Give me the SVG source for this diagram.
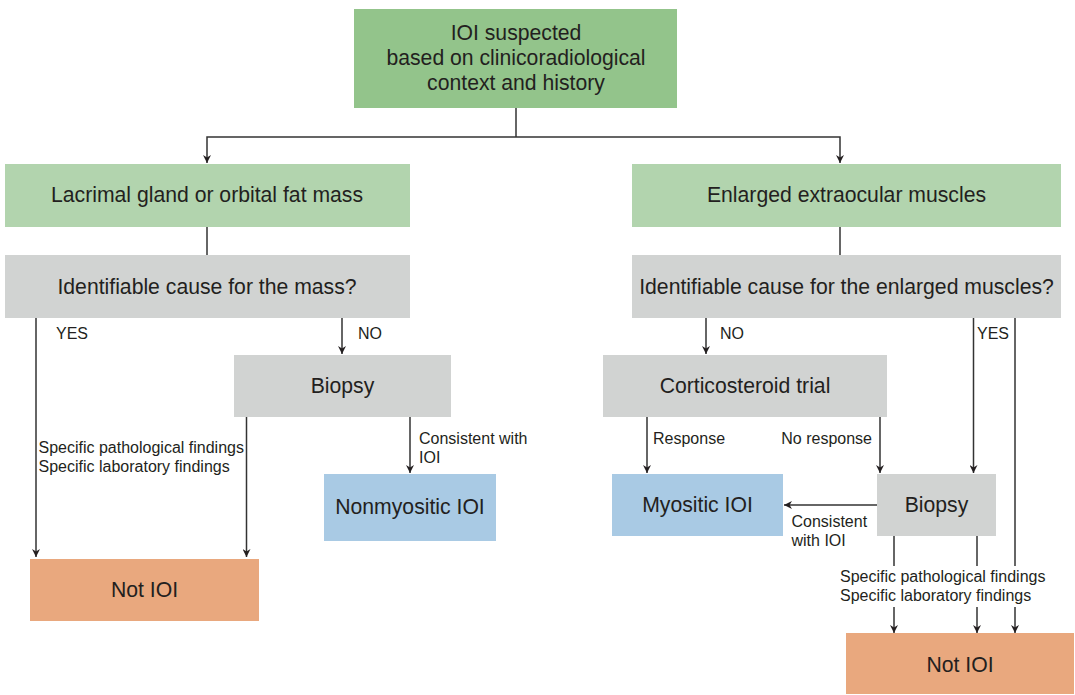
<svg xmlns="http://www.w3.org/2000/svg" width="1075" height="695" viewBox="0 0 1075 695">
<style>
.t{font-family:"Liberation Sans",Arial,sans-serif;font-size:21.2px;fill:#231f20;text-anchor:middle}
.l{font-family:"Liberation Sans",Arial,sans-serif;font-size:16px;fill:#231f20}
.g1{fill:#93c48b}.g2{fill:#b2d4ae}.gr{fill:#d1d3d2}.bl{fill:#a9cae4}.or{fill:#e9a87e}
.c{stroke:#333;stroke-width:1.5;fill:none}
.a{marker-end:url(#ah)}
</style>
<defs>
<marker id="ah" viewBox="0 0 10 10" refX="10" refY="5" markerWidth="8" markerHeight="8" markerUnits="userSpaceOnUse" orient="auto">
<path d="M0,0 L10,5 L0,10 L3,5 z" fill="#231f20"/>
</marker>
</defs>
<rect width="1075" height="695" fill="#fff"/>
<g id="connectors">
<path class="c" d="M516,108 V137"/>
<path class="c a" d="M516,137 H207 V163"/>
<path class="c a" d="M516,137 H840 V163"/>
<path class="c" d="M207,227 V255"/>
<path class="c" d="M840,227 V255"/>
<path class="c a" d="M36,318 V557"/>
<path class="c a" d="M342,318 V354"/>
<path class="c a" d="M246.5,417 V557"/>
<path class="c a" d="M410,417 V473"/>
<path class="c a" d="M706,318 V354"/>
<path class="c a" d="M647,417 V473"/>
<path class="c a" d="M880,417 V473"/>
<path class="c a" d="M973.5,318 V473"/>
<path class="c" d="M1015,318 V566"/>
<path class="c a" d="M1015,607 V633"/>
<path class="c a" d="M877,505 H784"/>
<path class="c" d="M894,536 V566"/>
<path class="c a" d="M894,607 V633"/>
<path class="c" d="M977,536 V566"/>
<path class="c a" d="M977,607 V633"/>
</g>
<g id="labels">
<text class="l" x="56" y="339">YES</text>
<text class="l" x="358" y="339">NO</text>
<text class="l" x="720" y="339">NO</text>
<text class="l" x="977" y="339">YES</text>
<text class="l" x="38.5" y="452.7">Specific pathological findings</text>
<text class="l" x="38.5" y="472">Specific laboratory findings</text>
<text class="l" x="419" y="443.7">Consistent with</text>
<text class="l" x="419" y="463">IOI</text>
<text class="l" x="653" y="444">Response</text>
<text class="l" x="872" y="444" text-anchor="end">No response</text>
<text class="l" x="791.5" y="526.7">Consistent</text>
<text class="l" x="791.5" y="545.7">with IOI</text>
<text class="l" x="840" y="581.7">Specific pathological findings</text>
<text class="l" x="840" y="600.7">Specific laboratory findings</text>
</g>
<g id="n_top"><rect class="g1" x="354" y="9" width="323" height="99"/>
<text class="t" x="516" y="39.5">IOI suspected</text>
<text class="t" x="516" y="64.5">based on clinicoradiological</text>
<text class="t" x="516" y="89.5">context and history</text></g>
<g id="n_lacrimal"><rect class="g2" x="5" y="164" width="405" height="63"/>
<text class="t" x="207" y="202">Lacrimal gland or orbital fat mass</text></g>
<g id="n_enlarged"><rect class="g2" x="632" y="164" width="429" height="63"/>
<text class="t" x="846.5" y="202">Enlarged extraocular muscles</text></g>
<g id="n_cause_mass"><rect class="gr" x="5" y="255" width="405" height="63"/>
<text class="t" x="207" y="294.3">Identifiable cause for the mass?</text></g>
<g id="n_cause_muscles"><rect class="gr" x="632" y="255" width="429" height="63"/>
<text class="t" x="846.5" y="294.3">Identifiable cause for the enlarged muscles?</text></g>
<g id="n_biopsy_left"><rect class="gr" x="234" y="355" width="217" height="62"/>
<text class="t" x="342.5" y="393.3">Biopsy</text></g>
<g id="n_cortico"><rect class="gr" x="603" y="355" width="284" height="62"/>
<text class="t" x="745" y="393.3">Corticosteroid trial</text></g>
<g id="n_nonmyositic"><rect class="bl" x="324" y="474" width="172" height="67"/>
<text class="t" x="410" y="514">Nonmyositic IOI</text></g>
<g id="n_myositic"><rect class="bl" x="612" y="474" width="171" height="62"/>
<text class="t" x="697.5" y="512">Myositic IOI</text></g>
<g id="n_biopsy_right"><rect class="gr" x="877" y="474" width="119" height="62"/>
<text class="t" x="936.5" y="512">Biopsy</text></g>
<g id="n_notioi_left"><rect class="or" x="30" y="559" width="229" height="62"/>
<text class="t" x="144.5" y="596.7">Not IOI</text></g>
<g id="n_notioi_right"><rect class="or" x="846" y="633" width="228" height="61"/>
<text class="t" x="960" y="671.7">Not IOI</text></g>
</svg>
